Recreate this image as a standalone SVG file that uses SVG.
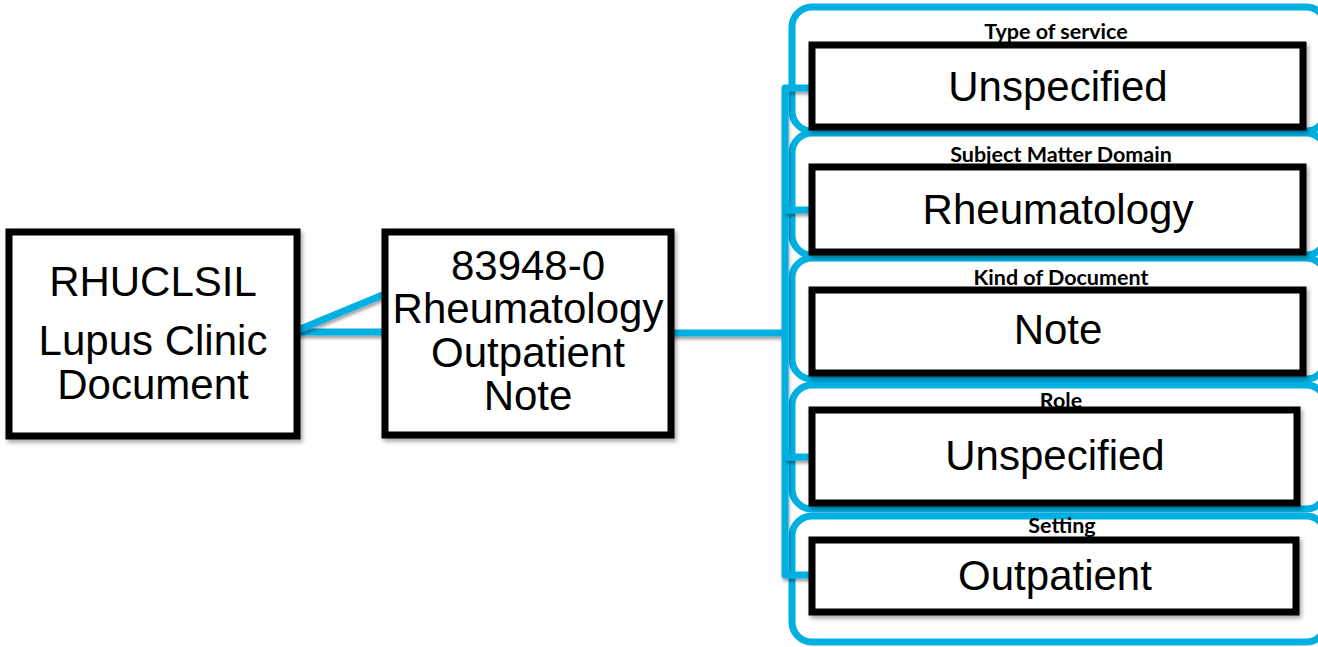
<svg xmlns="http://www.w3.org/2000/svg" width="1318" height="647" viewBox="0 0 1318 647">
<defs>
<filter id="sh" x="-10%" y="-10%" width="130%" height="130%">
<feDropShadow dx="2" dy="3" stdDeviation="2" flood-color="#000" flood-opacity="0.35"/>
</filter>
<filter id="lsh" filterUnits="userSpaceOnUse" x="0" y="0" width="1318" height="647">
<feDropShadow dx="1" dy="3" stdDeviation="1.5" flood-color="#000" flood-opacity="0.35"/>
</filter>
<style>
.box{fill:#fff;stroke:#000;stroke-width:7;filter:url(#sh)}
.cont{fill:none;stroke:#00B0E2;stroke-width:7}
.con{fill:none;stroke:#00B0E2;stroke-width:7;stroke-linejoin:round;filter:url(#lsh)}
.t{font-family:"Liberation Sans",Arial,sans-serif;font-size:42px;fill:#000;text-anchor:middle}
.lbl{font-family:Lato,"Liberation Sans",Arial,sans-serif;font-size:21.5px;font-weight:bold;fill:#000;text-anchor:middle}
</style>
</defs>
<rect width="1318" height="647" fill="#fff"/>
<g id="containers">
<rect class="cont" x="792" y="7" width="534" height="124" rx="20"/>
<rect class="cont" x="792" y="133" width="534" height="122" rx="20"/>
<rect class="cont" x="792" y="258" width="534" height="121" rx="20"/>
<rect class="cont" x="792" y="385" width="534" height="124" rx="20"/>
<rect class="cont" x="792" y="516" width="534" height="126" rx="20"/>
</g>
<g id="connectors">
<line class="con" x1="297" y1="332" x2="385" y2="332"/>
<line class="con" x1="298" y1="330" x2="385" y2="294"/>
<line class="con" x1="671" y1="333" x2="785" y2="333"/>
<polyline class="con" points="812,88 785,88 785,575 812,575"/>
<line class="con" x1="785" y1="210" x2="812" y2="210"/>
<line class="con" x1="785" y1="457" x2="812" y2="457"/>
</g>
<g id="node-rhuclsil">
<rect class="box" x="9" y="232" width="288" height="204"/>
<text class="t" x="153" y="296">RHUCLSIL</text>
<text class="t"><tspan x="153" y="355">Lupus Clinic</tspan><tspan x="153" y="399">Document</tspan></text>
</g>
<g id="node-83948">
<rect class="box" x="385" y="232" width="286" height="203"/>
<text class="t"><tspan x="528" y="280">83948-0</tspan><tspan x="528" y="323">Rheumatology</tspan><tspan x="528" y="367">Outpatient</tspan><tspan x="528" y="410">Note</tspan></text>
</g>
<g id="node-type">
<text class="lbl" x="1056" y="39">Type of service</text>
<rect class="box" x="812" y="45" width="491" height="82"/>
<text class="t" x="1058" y="101">Unspecified</text>
</g>
<g id="node-domain">
<text class="lbl" x="1061" y="162">Subject Matter Domain</text>
<rect class="box" x="812" y="167" width="491" height="85"/>
<text class="t" x="1058" y="224">Rheumatology</text>
</g>
<g id="node-kind">
<text class="lbl" x="1061" y="285">Kind of Document</text>
<rect class="box" x="812" y="290" width="491" height="83"/>
<text class="t" x="1058" y="344">Note</text>
</g>
<g id="node-role">
<text class="lbl" x="1061" y="408">Role</text>
<rect class="box" x="812" y="410" width="485" height="93"/>
<text class="t" x="1055" y="470">Unspecified</text>
</g>
<g id="node-setting">
<text class="lbl" x="1062" y="533">Setting</text>
<rect class="box" x="812" y="540" width="484" height="72"/>
<text class="t" x="1055" y="590">Outpatient</text>
</g>
</svg>
